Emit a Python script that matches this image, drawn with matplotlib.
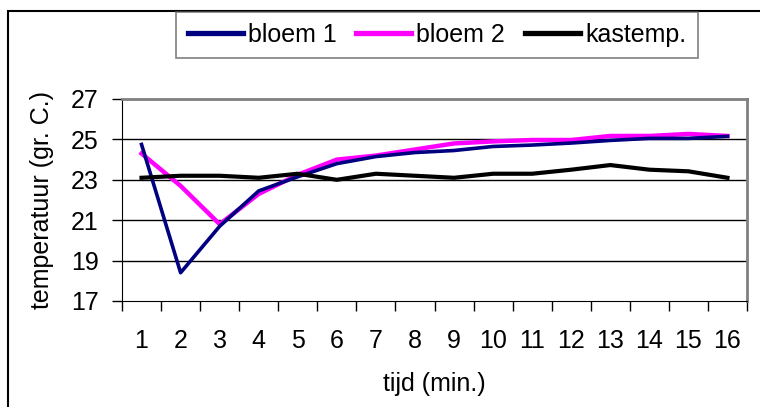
import matplotlib
matplotlib.use("Agg")
import matplotlib.pyplot as plt
from matplotlib.patches import Rectangle
import numpy as np

plt.rcParams['font.family'] = ['Liberation Sans', 'DejaVu Sans']

minutes = [str(i) for i in range(1, 17)]
bloem1 = [24.75, 18.4, 20.7, 22.45, 23.15, 23.8, 24.15, 24.35, 24.45, 24.65, 24.72, 24.82, 24.95, 25.05, 25.05, 25.15]
bloem2 = [24.3, 22.7, 20.8, 22.3, 23.25, 24.0, 24.2, 24.5, 24.8, 24.9, 24.97, 24.97, 25.17, 25.17, 25.27, 25.17]
kastemp = [23.1, 23.2, 23.2, 23.1, 23.3, 23.0, 23.3, 23.2, 23.1, 23.3, 23.3, 23.5, 23.73, 23.5, 23.42, 23.1]
yticks = [17, 19, 21, 23, 25, 27]

FS = 18
W, H = 760, 407
fig = plt.figure(figsize=(W / 100, H / 100), dpi=100)
ax = fig.add_axes([122 / W, 1 - 301 / H, (747 - 122) / W, (301 - 99) / H])

x = np.arange(1, len(minutes) + 1)
ax.plot(x, bloem1, color='#000080', lw=2.6, label='bloem 1', zorder=4)
ax.plot(x, bloem2, color='#ff00ff', lw=3.2, label='bloem 2', zorder=3)
ax.plot(x, kastemp, color='black', lw=3.0, label='kastemp.', zorder=5)

ax.set_xlim(0.5, len(minutes) + 0.5)
ax.set_ylim(17, 27)
ax.set_yticks(yticks)
ax.set_yticklabels([str(v) for v in yticks])
ax.set_xticks(x)
ax.set_xticklabels(minutes)
ax.set_xticks(np.arange(0.5, len(minutes) + 1), minor=True)
ax.tick_params(axis='x', which='major', length=0, pad=20, labelsize=FS)
ax.tick_params(axis='x', which='minor', length=7, width=1, direction='out', color='black')
ax.tick_params(axis='y', length=7, width=1, direction='out', pad=10, labelsize=FS)

for v in yticks[1:-1]:
    ax.axhline(v, color='black', lw=1, zorder=1)

ax.spines['top'].set_color('#808080')
ax.spines['right'].set_color('#808080')
ax.spines['top'].set_linewidth(2)
ax.spines['right'].set_linewidth(2)
ax.spines['left'].set_color('black')
ax.spines['bottom'].set_color('black')

ax.set_xlabel('tijd (min.)', fontsize=FS, labelpad=14)
ax.set_ylabel('temperatuur (gr. C.)', fontsize=FS, labelpad=12)

leg = fig.legend(loc='center', bbox_to_anchor=(437 / W, 1 - 35 / H), ncol=3, fontsize=FS,
                 frameon=True, fancybox=False, shadow=False, handlelength=2.2,
                 handletextpad=0.2, columnspacing=0.8, borderpad=0.45, borderaxespad=0)
leg.get_frame().set_edgecolor('#606060')
leg.get_frame().set_linewidth(1.2)
for h in leg.legend_handles:
    h.set_linewidth(3.8)

fig.patches.append(Rectangle((8 / W, -0.1), 1.2, 1 - 11 / H + 0.1, transform=fig.transFigure,
                             fill=False, edgecolor='black', lw=1.5))

fig.savefig('out.png', dpi=100)
